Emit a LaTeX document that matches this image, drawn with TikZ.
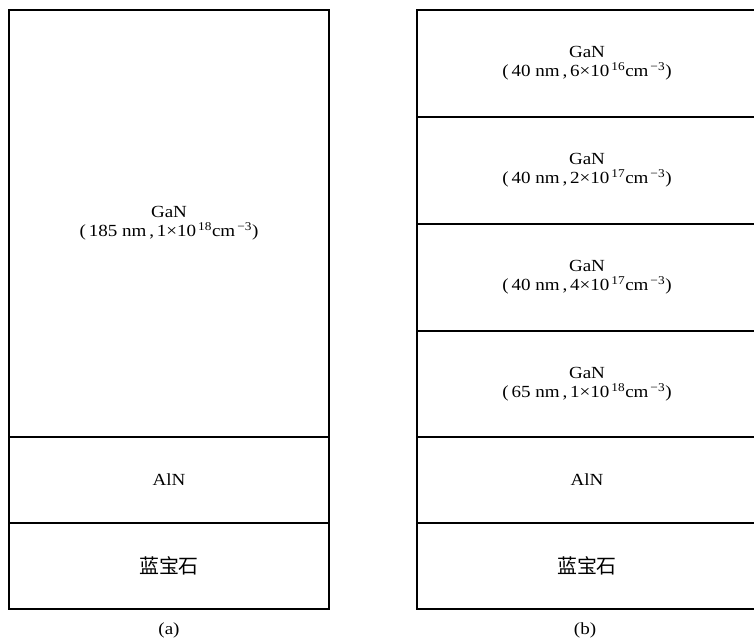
\documentclass[tikz,border=0pt]{standalone}
\usepackage{fontspec}
\setmainfont{Liberation Serif}[FakeStretch=1.12]
\newfontfamily\cjk{Noto Sans CJK SC}
\usetikzlibrary{positioning}

\begin{document}
\begin{tikzpicture}[x=0.03cm,y=-0.03cm]

\tikzstyle{layer} = [draw, line width=1.2pt, inner sep=0, outer sep=0, align=center,
font=\fontsize{14.5}{16.5}\selectfont]
\tikzstyle{thin-l} = [layer, minimum width=9.6cm, minimum height=2.58cm]
\tikzstyle{thin-r} = [layer, minimum width=10.2cm, minimum height=2.58cm]
\tikzstyle{gan-r} = [layer, minimum width=10.2cm, minimum height=3.21cm]
\tikzstyle{caption} = [font=\fontsize{14.5}{15}\selectfont]
\tikzstyle{sapphire} = [font=\fontsize{17}{16}\selectfont\cjk]

\clip (0,0) rectangle (754,642);

% (a)
\node [layer, anchor=north west, minimum width=9.6cm, minimum height=12.81cm] (gan-a) at (9,10)
  {GaN\\(\,185 nm\,,\,1×10\textsuperscript{\,18}cm\textsuperscript{\,−3})};
\node [thin-l, below=0pt of gan-a] (aln-a) {AlN};
\node [thin-l, sapphire, below=0pt of aln-a] (sub-a) {蓝宝石};
\node [caption] (cap-a) at (169,630) {(a)};

% (b)
\node [gan-r, anchor=north west] (gan1-b) at (417,10)
  {GaN\\(\,40 nm\,,\,6×10\textsuperscript{\,16}cm\textsuperscript{\,−3})};
\node [gan-r, below=0pt of gan1-b] (gan2-b)
  {GaN\\(\,40 nm\,,\,2×10\textsuperscript{\,17}cm\textsuperscript{\,−3})};
\node [gan-r, below=0pt of gan2-b] (gan3-b)
  {GaN\\(\,40 nm\,,\,4×10\textsuperscript{\,17}cm\textsuperscript{\,−3})};
\node [gan-r, minimum height=3.18cm, below=0pt of gan3-b] (gan4-b)
  {GaN\\(\,65 nm\,,\,1×10\textsuperscript{\,18}cm\textsuperscript{\,−3})};
\node [thin-r, below=0pt of gan4-b] (aln-b) {AlN};
\node [thin-r, sapphire, below=0pt of aln-b] (sub-b) {蓝宝石};
\node [caption] (cap-b) at (585,630) {(b)};

\end{tikzpicture}
\end{document}
